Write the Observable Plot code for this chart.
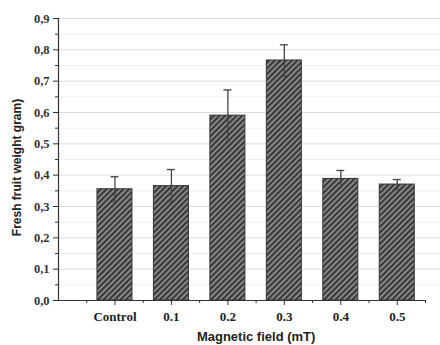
<!DOCTYPE html>
<html>
<head>
<meta charset="utf-8">
<script src="https://cdn.jsdelivr.net/npm/d3@7"></script>
<script src="https://cdn.jsdelivr.net/npm/@observablehq/plot@0.6"></script>
<style>
  html, body { margin: 0; padding: 0; background: #fff; }
  #chart svg { display: block; }
</style>
</head>
<body>
<div id="chart"></div>
<script>
const categories = ["Control", "0.1", "0.2", "0.3", "0.4", "0.5"];
const values = [0.355, 0.365, 0.59, 0.766, 0.388, 0.37];
const errors = [0.04, 0.053, 0.082, 0.05, 0.027, 0.016];
const yTicks = [0, 0.1, 0.2, 0.3, 0.4, 0.5, 0.6, 0.7, 0.8, 0.9];
const yMinorTicks = [0.05, 0.15, 0.25, 0.35, 0.45, 0.55, 0.65, 0.75, 0.85];
const xTitle = "Magnetic field (mT)";
const yTitle = "Fresh fruit weight gram)";

const data = categories.map((c, i) => ({i, c, v: values[i], e: errors[i]}));
const xIdx = d3.range(categories.length);
const xMinor = d3.range(-0.5, categories.length, 1);
const barHalf = 0.31;

const serif = "'Liberation Serif', 'Times New Roman', serif";
const sans = "'Liberation Sans', Arial, sans-serif";

const plot = Plot.plot({
  width: 440,
  height: 345,
  marginLeft: 58,
  marginRight: 15,
  marginTop: 18,
  marginBottom: 45,
  x: {type: "linear", domain: [-1, 5.5], axis: null},
  y: {domain: [0, 0.9], axis: null},
  style: {background: "#fff", overflow: "visible"},
  marks: [
    // gridlines
    Plot.ruleY(yMinorTicks, {stroke: "#f0f0f0", strokeWidth: 1, insetRight: -15}),
    Plot.ruleY(yTicks.slice(1), {stroke: "#dedede", strokeWidth: 1, insetRight: -15}),
    // bars
    Plot.rectY(data, {
      x1: d => d.i - barHalf,
      x2: d => d.i + barHalf,
      y: "v",
      fill: "url(#hatch)",
      stroke: "#333",
      strokeWidth: 1
    }),
    // error bars
    Plot.ruleX(data, {x: "i", y1: d => d.v - d.e, y2: d => d.v + d.e, stroke: "#444", strokeWidth: 1.3}),
    Plot.ruleY(data, {y: d => d.v + d.e, x1: "i", x2: "i", insetLeft: -4, insetRight: -4, stroke: "#444", strokeWidth: 1.3}),
    Plot.ruleY(data, {y: d => d.v - d.e, x1: "i", x2: "i", insetLeft: -2, insetRight: -2, stroke: "#444", strokeWidth: 1.2}),
    // axes lines
    Plot.ruleX([-1], {y1: 0, y2: 0.9, stroke: "#333", strokeWidth: 1.2}),
    Plot.ruleY([0], {x1: -1, x2: 5.5, stroke: "#333", strokeWidth: 1.2}),
    // y axis ticks & labels
    Plot.axisY({
      x: -1, ticks: yTicks, tickSize: 5, tickPadding: 4,
      tickFormat: d => d.toFixed(1).replace(".", ","),
      fontFamily: serif, fontSize: 12.5, fontWeight: "bold", stroke: "#333", fill: "#333",
      label: null, anchor: "left"
    }),
    Plot.axisY({ticks: yMinorTicks, tickSize: 3, tickFormat: () => "", stroke: "#333", label: null}),
    // x axis ticks & labels
    Plot.axisX({
      ticks: xIdx, tickSize: 5, tickPadding: 6,
      tickFormat: i => categories[i],
      fontFamily: serif, fontSize: 13, fontWeight: "bold", stroke: "#333", fill: "#222",
      label: null
    }),
    Plot.axisX({ticks: xMinor, tickSize: 3, tickFormat: () => "", stroke: "#333", label: null}),
    // titles
    Plot.text([xTitle], {
      x: 2.5, y: 0, dy: 36, text: d => d,
      fontFamily: sans, fontSize: 13, fontWeight: "bold", fill: "#222"
    }),
    Plot.text([yTitle], {
      frameAnchor: "left", textAnchor: "middle", dx: -41, dy: 8, rotate: -90, text: d => d,
      fontFamily: sans, fontSize: 12, fontWeight: "bold", fill: "#222"
    })
  ]
});

// hatch pattern
const ns = "http://www.w3.org/2000/svg";
const defs = document.createElementNS(ns, "defs");
const pat = document.createElementNS(ns, "pattern");
pat.setAttribute("id", "hatch");
pat.setAttribute("patternUnits", "userSpaceOnUse");
pat.setAttribute("width", "4");
pat.setAttribute("height", "4");
pat.setAttribute("patternTransform", "rotate(45)");
const bg = document.createElementNS(ns, "rect");
bg.setAttribute("width", "4"); bg.setAttribute("height", "4"); bg.setAttribute("fill", "#8f8f8f");
const st = document.createElementNS(ns, "rect");
st.setAttribute("width", "2.2"); st.setAttribute("height", "4"); st.setAttribute("fill", "#383838");
pat.appendChild(bg); pat.appendChild(st);
defs.appendChild(pat);
plot.insertBefore(defs, plot.firstChild);

document.getElementById("chart").appendChild(plot);
</script>
</body>
</html>
